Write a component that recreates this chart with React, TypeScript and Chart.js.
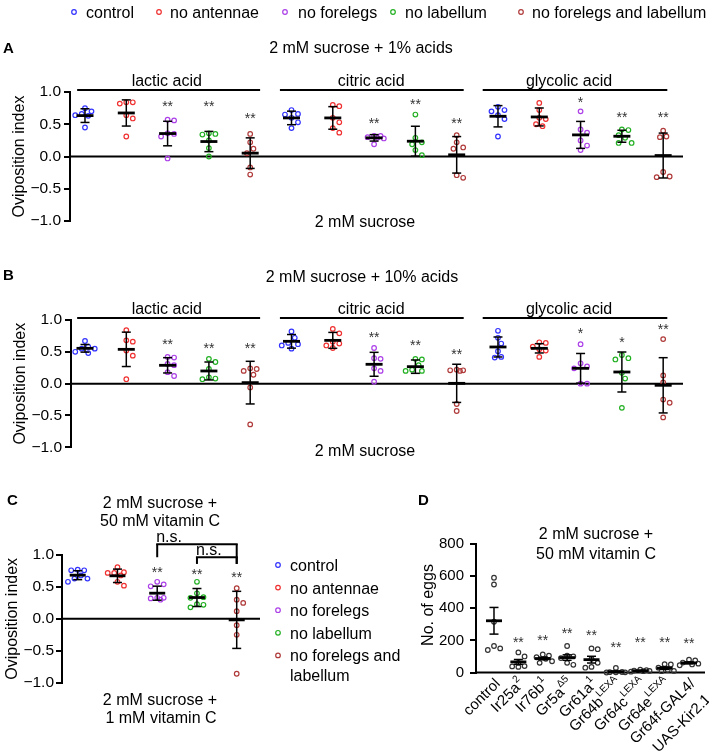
import React, { useEffect, useRef } from 'react';
import { Chart, registerables } from 'chart.js';

Chart.register(...registerables);

const FONT = '"Liberation Sans", Arial, Helvetica, sans-serif';

// ---------- shared ----------
const treatments = ['control', 'no antennae', 'no forelegs', 'no labellum', 'no forelegs and labellum'];
const treatmentColors = ['#3232ff', '#f03030', '#ac40e8', '#22b022', '#b03a3a'];
const acidGroups = ['lactic acid', 'citric acid', 'glycolic acid'];
const yTitleOI = 'Oviposition index';

// ---------- Panel A : 2 mM sucrose + 1% acids ----------
const titleA = '2 mM sucrose + 1% acids';
const bottomA = '2 mM sucrose';
const pointsA = [
  [0.75, 0.70, 0.66, 0.63, 0.64, 0.45],
  [0.84, 0.82, 0.84, 0.59, 0.64, 0.31],
  [0.57, 0.56, 0.35, 0.36, 0.31, -0.03],
  [0.36, 0.34, 0.35, 0.25, 0.13, 0.0],
  [0.35, 0.22, 0.12, 0.05, -0.17, -0.28],
  [0.72, 0.66, 0.65, 0.60, 0.53, 0.44],
  [0.80, 0.78, 0.60, 0.53, 0.44, 0.37],
  [0.32, 0.30, 0.32, 0.29, 0.28, 0.19],
  [0.65, 0.29, 0.22, 0.19, 0.10, 0.02],
  [0.33, 0.22, 0.14, 0.12, -0.33, -0.29],
  [0.77, 0.72, 0.70, 0.64, 0.58, 0.31],
  [0.83, 0.72, 0.60, 0.58, 0.50, 0.47],
  [0.70, 0.42, 0.37, 0.25, 0.17, 0.10],
  [0.42, 0.41, 0.33, 0.29, 0.21, 0.21],
  [0.40, 0.30, 0.31, -0.24, -0.32, -0.31],
];
const meansA = [0.634, 0.675, 0.356, 0.232, 0.052, 0.598, 0.598, 0.289, 0.237, 0.026, 0.624, 0.613, 0.335, 0.314, 0.015];
const sdA = [0.106, 0.203, 0.19, 0.157, 0.237, 0.105, 0.175, 0.05, 0.232, 0.283, 0.165, 0.139, 0.209, 0.093, 0.348];
const starsA = ['', '', '**', '**', '**', '', '', '**', '**', '**', '', '', '*', '**', '**'];
const starYA = [0, 0, 0.83, 0.83, 0.65, 0, 0, 0.57, 0.86, 0.57, 0, 0, 0.89, 0.66, 0.66];

// ---------- Panel B : 2 mM sucrose + 10% acids ----------
const titleB = '2 mM sucrose + 10% acids';
const bottomB = '2 mM sucrose';
const pointsB = [
  [0.67, 0.58, 0.55, 0.55, 0.50, 0.48],
  [0.84, 0.68, 0.66, 0.52, 0.44, 0.07],
  [0.42, 0.41, 0.31, 0.29, 0.18, 0.12],
  [0.39, 0.34, 0.23, 0.10, 0.08, 0.07],
  [0.24, 0.23, 0.20, 0.14, -0.06, -0.64],
  [0.82, 0.72, 0.64, 0.62, 0.60, 0.55],
  [0.86, 0.79, 0.66, 0.63, 0.60, 0.56],
  [0.56, 0.40, 0.39, 0.24, 0.20, 0.03],
  [0.39, 0.38, 0.29, 0.22, 0.20, 0.20],
  [0.22, 0.21, 0.21, 0.20, -0.32, -0.43],
  [0.83, 0.72, 0.63, 0.51, 0.42, 0.41],
  [0.65, 0.64, 0.58, 0.54, 0.52, 0.42],
  [0.62, 0.32, 0.27, 0.24, 0.0, 0.0],
  [0.45, 0.40, 0.38, 0.17, 0.08, -0.38],
  [0.70, 0.13, 0.02, -0.25, -0.30, -0.53],
];
const meansB = [0.555, 0.539, 0.288, 0.199, 0.016, 0.665, 0.68, 0.304, 0.267, 0.005, 0.576, 0.555, 0.241, 0.183, -0.026];
const sdB = [0.06, 0.27, 0.12, 0.141, 0.335, 0.107, 0.125, 0.188, 0.105, 0.30, 0.157, 0.073, 0.233, 0.314, 0.434];
const starsB = ['', '', '**', '**', '**', '', '', '**', '**', '**', '', '', '*', '*', '**'];
const starYB = [0, 0, 0.67, 0.60, 0.60, 0, 0, 0.785, 0.66, 0.52, 0, 0, 0.84, 0.70, 0.91];

// ---------- Panel C : vitamin C ----------
const titleC = ['2 mM sucrose +', '50 mM vitamin C'];
const bottomC = ['2 mM sucrose +', '1 mM vitamin C'];
const legendC = ['control', 'no antennae', 'no forelegs', 'no labellum', 'no forelegs and\nlabellum'];
const pointsC = [
  [0.77, 0.76, 0.76, 0.68, 0.63, 0.63, 0.58],
  [0.81, 0.73, 0.72, 0.72, 0.68, 0.58, 0.52],
  [0.58, 0.54, 0.51, 0.33, 0.32, 0.33, 0.30],
  [0.58, 0.40, 0.34, 0.33, 0.23, 0.22, 0.18],
  [0.48, 0.30, 0.25, 0.12, -0.10, -0.25, -0.86],
];
const meansC = [0.684, 0.674, 0.402, 0.334, -0.016];
const sdC = [0.07, 0.105, 0.11, 0.141, 0.447];
const starsC = ['', '', '**', '**', '**'];
const starYC = [0, 0, 0.78, 0.75, 0.71];
const bracketFromC = [2, 3];
const bracketToC = [4, 4];
const bracketTopC = [1.17, 0.965];
const bracketLeftEndC = [0.965, 0.86];
const bracketRightEndC = [0.86, 0.86];
const bracketLabelC = ['n.s.', 'n.s.'];

// ---------- Panel D : egg numbers ----------
const titleD = ['2 mM sucrose +', '50 mM vitamin C'];
const yTitleD = 'No. of eggs';
const categoriesD = ['control', 'Ir25a^2', 'Ir76b^1', 'Gr5a^\u03945', 'Gr61a^1', 'Gr64b^LEXA', 'Gr64c^LEXA', 'Gr64e^LEXA', 'Gr64f-GAL4/\nUAS-Kir2.1'];
const pointsD = [
  [590, 548, 316, 165, 150, 140],
  [125, 100, 60, 40, 35, 38],
  [112, 105, 95, 85, 70, 60],
  [165, 105, 100, 90, 60, 48],
  [150, 145, 85, 60, 35, 30],
  [28, 3, 2, 1, 1, 0],
  [18, 15, 12, 10, 8, 5],
  [52, 50, 30, 15, 10, 8],
  [80, 75, 62, 55, 50, 45],
];
const meansD = [322, 66, 87, 93, 80, 5, 11, 27, 60];
const semD = [83, 15, 8, 17, 21, 4, 2, 8, 6];
const starsD = ['', '**', '**', '**', '**', '**', '**', '**', '**'];
const starYD = [0, 211, 221, 262, 252, 180, 211, 207, 200];

// ---------- helpers ----------
function swarm(values: number[], pxY: number, d: number, maxOff: number): number[] {
  const order = values.map((_, i) => i).sort((a, b) => values[b] - values[a]);
  const placed: { x: number; y: number }[] = [];
  const offs = new Array(values.length).fill(0);
  const step = d / 2;
  for (const i of order) {
    const y = values[i] * pxY;
    let best = 0;
    let bestScore = -1;
    for (let k = 0; k < 40; k++) {
      const m = Math.ceil(k / 2) * (k % 2 === 1 ? 1 : -1);
      const x = m * step;
      if (Math.abs(x) > maxOff + 1e-6) continue;
      let minD = Infinity;
      for (const p of placed) minD = Math.min(minD, Math.hypot(p.x - x, p.y - y));
      if (minD >= d) { best = x; bestScore = Infinity; break; }
      if (minD > bestScore) { bestScore = minD; best = x; }
    }
    offs[i] = best;
    placed.push({ x: best, y });
  }
  return offs;
}

function text(ctx: any, s: string, x: number, y: number, opt: any = {}) {
  ctx.save();
  ctx.font = `${opt.bold ? 'bold ' : ''}${opt.size ?? 16}px ${FONT}`;
  ctx.fillStyle = opt.color ?? '#000';
  ctx.textAlign = opt.align ?? 'center';
  ctx.textBaseline = opt.baseline ?? 'alphabetic';
  ctx.translate(x, y);
  if (opt.rot) ctx.rotate(opt.rot);
  ctx.fillText(s, 0, 0);
  ctx.restore();
}

function seg(ctx: any, x1: number, y1: number, x2: number, y2: number, lw = 2, color = '#000') {
  ctx.save();
  ctx.beginPath();
  ctx.moveTo(x1, y1);
  ctx.lineTo(x2, y2);
  ctx.strokeStyle = color;
  ctx.lineWidth = lw;
  ctx.lineCap = 'butt';
  ctx.stroke();
  ctx.restore();
}

function ring(ctx: any, x: number, y: number, r: number, color: string, lw = 1.2) {
  ctx.save();
  ctx.beginPath();
  ctx.arc(x, y, r, 0, Math.PI * 2);
  ctx.strokeStyle = color;
  ctx.lineWidth = lw;
  ctx.stroke();
  ctx.restore();
}

const fmtOI = (v: number) => (v < -1e-9 ? '\u2212' + Math.abs(v).toFixed(1) : Math.abs(v).toFixed(1));

function buildChart(canvas: HTMLCanvasElement, cfg: any) {
  const a = cfg.area;
  const pxX = (a.right - a.left) / (cfg.xMax - cfg.xMin);
  const pxY = (a.bottom - a.top) / (cfg.yMax - cfg.yMin);
  const datasets = cfg.groups.map((g: any) => {
    const offs = swarm(g.values, pxY, cfg.swarmD, cfg.swarmMax);
    return {
      type: 'scatter',
      data: g.values.map((v: number, i: number) => ({ x: g.x + offs[i] / pxX, y: v })),
      pointStyle: 'circle',
      pointRadius: cfg.pointR,
      pointHoverRadius: cfg.pointR,
      pointBorderWidth: 1.2,
      pointBorderColor: g.color,
      pointBackgroundColor: 'rgba(255,255,255,0)',
      borderColor: g.color,
      backgroundColor: 'rgba(255,255,255,0)',
      showLine: false,
      clip: false,
    };
  });
  const overlay = {
    id: 'overlay',
    beforeDatasetsDraw(chart: any) {
      const ctx = chart.ctx;
      const ys = chart.scales.y;
      const ca = chart.chartArea;
      const y0 = ys.getPixelForValue(0);
      seg(ctx, ca.left, y0, ca.right, y0, 2);
    },
    afterDatasetsDraw(chart: any) {
      const ctx = chart.ctx;
      const xs = chart.scales.x;
      const ys = chart.scales.y;
      cfg.groups.forEach((g: any) => {
        const x = xs.getPixelForValue(g.x);
        const yt = ys.getPixelForValue(g.mean + g.err);
        const yb = ys.getPixelForValue(g.mean - g.err);
        const ym = ys.getPixelForValue(g.mean);
        seg(ctx, x, yt, x, yb, 1.5);
        seg(ctx, x - cfg.capHalf, yt, x + cfg.capHalf, yt, 1.5);
        seg(ctx, x - cfg.capHalf, yb, x + cfg.capHalf, yb, 1.5);
        seg(ctx, x - cfg.meanHalf, ym, x + cfg.meanHalf, ym, 2.8);
        if (g.star) {
          text(ctx, g.star, x, ys.getPixelForValue(g.starY) + 8, { size: 14, color: '#333' });
        }
      });
    },
    afterDraw(chart: any) {
      cfg.draw(chart.ctx, chart);
    },
  };
  return new Chart(canvas, {
    type: 'scatter',
    data: { datasets },
    options: {
      responsive: false,
      maintainAspectRatio: false,
      animation: false,
      devicePixelRatio: 1,
      events: [],
      layout: {
        padding: {
          left: a.left - cfg.yAxisW,
          top: a.top,
          right: cfg.width - a.right,
          bottom: cfg.height - a.bottom,
        },
      },
      plugins: { legend: { display: false }, tooltip: { enabled: false }, title: { display: false } },
      scales: {
        x: { type: 'linear', display: false, min: cfg.xMin, max: cfg.xMax },
        y: {
          type: 'linear',
          min: cfg.yMin,
          max: cfg.yMax,
          afterFit: (s: any) => { s.width = cfg.yAxisW; },
          ticks: {
            stepSize: cfg.yStep,
            autoSkip: false,
            callback: (v: any) => cfg.tickFmt(Number(v)),
            color: '#000',
            font: { family: FONT, size: cfg.tickSize },
            padding: cfg.tickPad,
          },
          grid: { display: true, drawOnChartArea: false, drawTicks: true, tickLength: 6, color: '#000', lineWidth: 2 },
          border: { display: true, color: '#000', width: 2 },
        },
      },
    } as any,
    plugins: [overlay],
  } as any);
}

// group annotation layout (category units)
const groupLineStart = [-0.19, 4.72, 9.63];
const groupLineEnd = [4.24, 9.17, 14.1];
const groupTextX = [1.98, 6.93, 11.72];

function drawAcidGroups(ctx: any, chart: any) {
  const xs = chart.scales.x;
  const ca = chart.chartArea;
  acidGroups.forEach((g, k) => {
    seg(ctx, xs.getPixelForValue(groupLineStart[k]), ca.top - 2, xs.getPixelForValue(groupLineEnd[k]), ca.top - 2, 2);
    text(ctx, g, xs.getPixelForValue(groupTextX[k]), ca.top - 6);
  });
}

function acidGroupsData(points: number[][], means: number[], sds: number[], stars: string[], starY: number[]) {
  return points.map((vals, i) => ({
    x: i,
    values: vals,
    color: treatmentColors[i % 5],
    mean: means[i],
    err: sds[i],
    star: stars[i],
    starY: starY[i],
  }));
}

const legendMarkerX = [74, 159, 285, 393, 521];
const legendTextX = [86, 170, 298, 405, 532];

function cfgA() {
  return {
    width: 709, height: 250,
    area: { left: 70, top: 92, right: 683, bottom: 221 },
    yAxisW: 60,
    xMin: -0.363, xMax: 14.48, yMin: -1, yMax: 1, yStep: 0.5,
    tickFmt: fmtOI, tickSize: 15.5, tickPad: 3,
    groups: acidGroupsData(pointsA, meansA, sdA, starsA, starYA),
    meanHalf: 8.5, capHalf: 4.5, pointR: 2.3, swarmD: 6.5, swarmMax: 12,
    draw: (ctx: any, chart: any) => {
      const ca = chart.chartArea;
      treatments.forEach((t, i) => {
        ring(ctx, legendMarkerX[i], 12, 2.3, treatmentColors[i]);
        text(ctx, t, legendTextX[i], 17.5, { align: 'left' });
      });
      text(ctx, 'A', 3, 53, { bold: true, size: 15, align: 'left' });
      text(ctx, titleA, 361, 53);
      drawAcidGroups(ctx, chart);
      text(ctx, bottomA, 365, 227);
      text(ctx, yTitleOI, 20, (ca.top + ca.bottom) / 2, { rot: -Math.PI / 2, baseline: 'middle' });
    },
  };
}

function cfgB() {
  return {
    width: 709, height: 240,
    area: { left: 71, top: 70, right: 683, bottom: 197.3 },
    yAxisW: 61,
    xMin: -0.339, xMax: 14.48, yMin: -1, yMax: 1, yStep: 0.5,
    tickFmt: fmtOI, tickSize: 15.5, tickPad: 3,
    groups: acidGroupsData(pointsB, meansB, sdB, starsB, starYB),
    meanHalf: 8.5, capHalf: 4.5, pointR: 2.3, swarmD: 6.5, swarmMax: 12,
    draw: (ctx: any, chart: any) => {
      const ca = chart.chartArea;
      text(ctx, 'B', 3, 30, { bold: true, size: 15, align: 'left' });
      text(ctx, titleB, 362, 32);
      drawAcidGroups(ctx, chart);
      text(ctx, bottomB, 365, 206);
      text(ctx, yTitleOI, 21, (ca.top + ca.bottom) / 2, { rot: -Math.PI / 2, baseline: 'middle' });
    },
  };
}

function cfgC() {
  return {
    width: 420, height: 266,
    area: { left: 62, top: 65, right: 260, bottom: 192.7 },
    yAxisW: 52,
    xMin: -0.395, xMax: 4.586, yMin: -1, yMax: 1, yStep: 0.5,
    tickFmt: fmtOI, tickSize: 15.5, tickPad: 2,
    groups: pointsC.map((vals, i) => ({
      x: i, values: vals, color: treatmentColors[i], mean: meansC[i], err: sdC[i], star: starsC[i], starY: starYC[i],
    })),
    meanHalf: 8, capHalf: 4.5, pointR: 2.3, swarmD: 6.5, swarmMax: 12,
    draw: (ctx: any, chart: any) => {
      const ca = chart.chartArea;
      const xs = chart.scales.x;
      const ys = chart.scales.y;
      text(ctx, 'C', 7, 15, { bold: true, size: 15, align: 'left' });
      text(ctx, titleC[0], 160, 18);
      text(ctx, titleC[1], 160, 36);
      text(ctx, bottomC[0], 160, 215);
      text(ctx, bottomC[1], 161, 233);
      text(ctx, yTitleOI, 13, (ca.top + ca.bottom) / 2, { rot: -Math.PI / 2, baseline: 'middle' });
      // brackets
      bracketFromC.forEach((f, k) => {
        const x1 = xs.getPixelForValue(f);
        const x2 = xs.getPixelForValue(bracketToC[k]);
        const yt = ys.getPixelForValue(bracketTopC[k]);
        seg(ctx, x1 - 1, yt, x2 + 1, yt, 2);
        seg(ctx, x1, yt, x1, ys.getPixelForValue(bracketLeftEndC[k]), 2);
        seg(ctx, x2, yt, x2, ys.getPixelForValue(bracketRightEndC[k]), 2);
        text(ctx, bracketLabelC[k], x1 - 1, yt - 2.5, { align: 'left' });
      });
      // legend
      legendC.forEach((t, i) => {
        const yc = 75 + i * 22.6;
        ring(ctx, 278, yc, 2.3, treatmentColors[i]);
        t.split('\n').forEach((ln, j) => text(ctx, ln, 290, yc + 6 + j * 19.5, { align: 'left' }));
      });
    },
  };
}

function drawSupLabel(ctx: any, label: string, x: number, y: number) {
  const lines = label.split('\n');
  ctx.save();
  ctx.translate(x, y);
  ctx.rotate(-Math.PI / 4);
  ctx.fillStyle = '#000';
  ctx.textBaseline = 'middle';
  ctx.textAlign = 'left';
  lines.forEach((ln, li) => {
    const [base, sup] = ln.split('^');
    ctx.font = `15px ${FONT}`;
    const wb = ctx.measureText(base).width;
    let ws = 0;
    if (sup) {
      ctx.font = `10px ${FONT}`;
      ws = ctx.measureText(sup).width + 0.5;
    }
    const x0 = -(wb + ws);
    const ly = li * 22;
    ctx.font = `15px ${FONT}`;
    ctx.fillText(base, x0, ly);
    if (sup) {
      ctx.font = `10px ${FONT}`;
      ctx.fillText(sup, x0 + wb + 0.5, ly - 6);
    }
  });
  ctx.restore();
}

function cfgD() {
  return {
    width: 294, height: 266,
    area: { left: 61, top: 54, right: 290, bottom: 182.5 },
    yAxisW: 50,
    xMin: -0.738, xMax: 8.656, yMin: 0, yMax: 800, yStep: 200,
    tickFmt: (v: number) => String(Math.round(v)), tickSize: 15, tickPad: 6,
    groups: pointsD.map((vals, i) => ({
      x: i, values: vals, color: '#333', mean: meansD[i], err: semD[i], star: starsD[i], starY: starYD[i],
    })),
    meanHalf: 8, capHalf: 4.5, pointR: 2.3, swarmD: 6.2, swarmMax: 10,
    draw: (ctx: any, chart: any) => {
      const ca = chart.chartArea;
      const xs = chart.scales.x;
      text(ctx, 'D', 3, 15, { bold: true, size: 15, align: 'left' });
      text(ctx, titleD[0], 181, 49);
      text(ctx, titleD[1], 181, 69);
      text(ctx, yTitleD, 14, 115, { rot: -Math.PI / 2, baseline: 'middle' });
      categoriesD.forEach((c, i) => drawSupLabel(ctx, c, xs.getPixelForValue(i) + 4, ca.bottom + 9));
    },
  };
}

export default function App() {
  const refA = useRef<HTMLCanvasElement>(null);
  const refB = useRef<HTMLCanvasElement>(null);
  const refC = useRef<HTMLCanvasElement>(null);
  const refD = useRef<HTMLCanvasElement>(null);

  useEffect(() => {
    const charts = [
      buildChart(refA.current!, cfgA()),
      buildChart(refB.current!, cfgB()),
      buildChart(refC.current!, cfgC()),
      buildChart(refD.current!, cfgD()),
    ];
    return () => charts.forEach((c) => c.destroy());
  }, []);

  return (
    <div style={{ position: 'fixed', left: 0, top: 0, width: 709, height: 756, background: '#fff', overflow: 'hidden' }}>
      <canvas ref={refA} width={709} height={250} style={{ position: 'absolute', left: 0, top: 0, width: 709, height: 250 }} />
      <canvas ref={refB} width={709} height={240} style={{ position: 'absolute', left: 0, top: 250, width: 709, height: 240 }} />
      <canvas ref={refC} width={420} height={266} style={{ position: 'absolute', left: 0, top: 490, width: 420, height: 266 }} />
      <canvas ref={refD} width={294} height={266} style={{ position: 'absolute', left: 415, top: 490, width: 294, height: 266 }} />
    </div>
  );
}
